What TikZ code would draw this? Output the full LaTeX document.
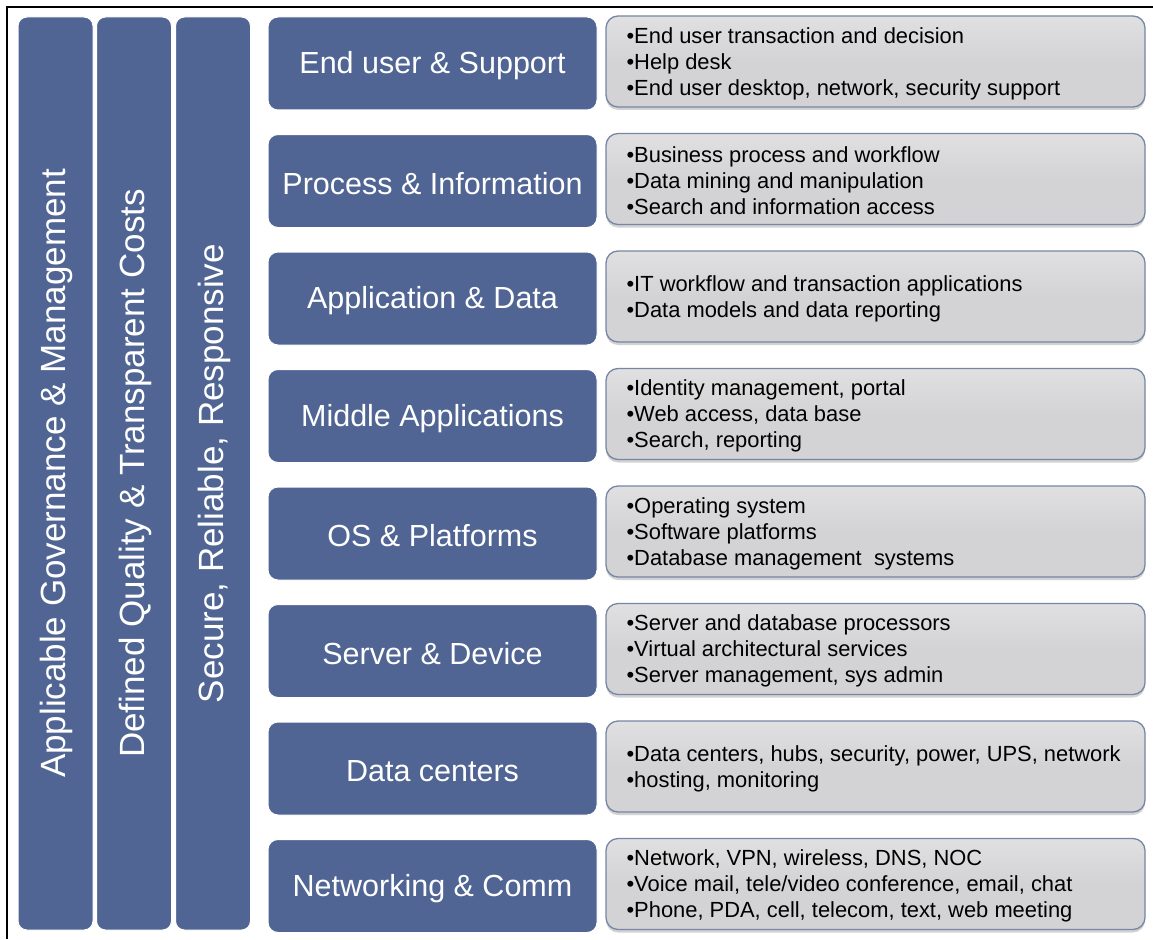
\documentclass[tikz,border=0pt]{standalone}
\usepackage{fontspec}
\setmainfont{Liberation Sans}
\usetikzlibrary{shadows}
\definecolor{bluebox}{RGB}{80,101,147}
\definecolor{graybox}{RGB}{211,211,213}
\definecolor{grayedge}{RGB}{118,134,165}
\begin{document}
\begin{tikzpicture}[x=1pt,y=-1pt,
  pillar/.style={draw=white, line width=1pt, fill=bluebox, rounded corners=9pt, minimum width=75pt, minimum height=913pt, inner sep=0pt},
  pillartext/.style={rotate=90, text=white, font=\fontsize{35}{40}\selectfont, inner sep=0pt},
  layer/.style={draw=white, line width=1pt, fill=bluebox, rounded corners=10pt, minimum width=329pt, minimum height=93pt, inner sep=0pt},
  layertext/.style={text=white, font=\fontsize{30.5}{36}\selectfont, inner sep=0pt},
  detail/.style={draw=grayedge, line width=1.3pt, top color=graybox!70!white, bottom color=graybox, middle color=graybox, rounded corners=12pt, minimum width=539pt, minimum height=91pt, inner sep=0pt, drop shadow={shadow xshift=0pt, shadow yshift=-3pt, opacity=0.35}},
  dtext/.style={anchor=west, align=left, font=\fontsize{21.9}{26}\selectfont, inner sep=0pt}
]
\useasboundingbox (0,0) rectangle (1153,939);
\fill[white] (0,0) rectangle (1153,939);
\draw[line width=2.2pt] (1153,7) -- (7,7) -- (7,939);

\node[pillar] (p1) at (55.5,473.5) {};
\node[pillar] (p2) at (134,473.5) {};
\node[pillar] (p3) at (213,473.5) {};
\node[pillartext] (t1) at ([xshift=1pt]p1.center) {Applicable Governance \& Management};
\node[pillartext] (t2) at ([xshift=1pt]p2.center) {Defined Quality \& Transparent Costs};
\node[pillartext] (t3) at ([xshift=1pt]p3.center) {Secure, Reliable, Responsive};

\foreach \i/\name/\lab in {0/l1/End user \& Support, 1/l2/Process \& Information, 2/l3/Application \& Data, 3/l4/Middle Applications, 4/l5/OS \& Platforms, 5/l6/Server \& Device, 6/l7/Data centers, 7/l8/Networking \& Comm}{
  \node[layer] (\name) at (432.5,{63.5+117.5*\i}) {};
  \node[layertext] (\name t) at ([yshift=-2.5pt]\name.center) {\lab};
  \node[detail] (d\name) at (875.5,{61.5+117.5*\i}) {};
}

\node[dtext] (x1) at ([xshift=21pt,yshift=-2pt]dl1.west) {•End user transaction and decision\\•Help desk\\•End user desktop, network, security support};
\node[dtext] (x2) at ([xshift=21pt,yshift=-2pt]dl2.west) {•Business process and workflow\\•Data mining and manipulation\\•Search and information access};
\node[dtext] (x3) at ([xshift=21pt,yshift=-2pt]dl3.west) {•IT workflow and transaction applications\\•Data models and data reporting};
\node[dtext] (x4) at ([xshift=21pt,yshift=-2pt]dl4.west) {•Identity management, portal\\•Web access, data base\\•Search, reporting};
\node[dtext] (x5) at ([xshift=21pt,yshift=-2pt]dl5.west) {•Operating system\\•Software platforms\\•Database management\ \ systems};
\node[dtext] (x6) at ([xshift=21pt,yshift=-2pt]dl6.west) {•Server and database processors\\•Virtual architectural services\\•Server management, sys admin};
\node[dtext] (x7) at ([xshift=21pt,yshift=-2pt]dl7.west) {•Data centers, hubs, security, power, UPS, network\\•hosting, monitoring};
\node[dtext] (x8) at ([xshift=21pt,yshift=-2pt]dl8.west) {•Network, VPN, wireless, DNS, NOC\\•Voice mail, tele/video conference, email, chat\\•Phone, PDA, cell, telecom, text, web meeting};
\end{tikzpicture}
\end{document}
